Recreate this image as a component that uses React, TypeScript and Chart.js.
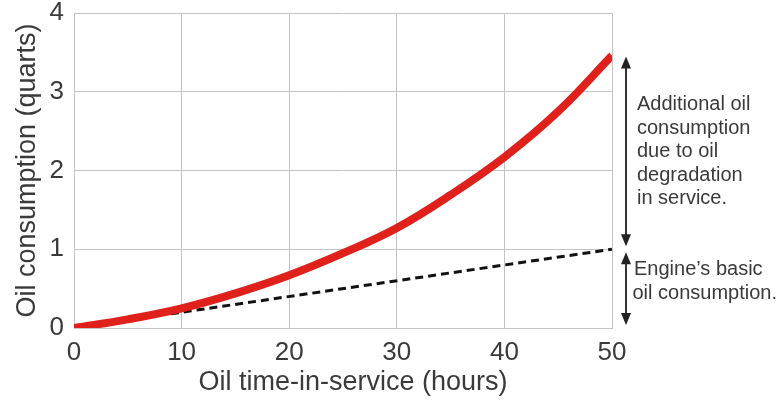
import React, { useEffect, useRef } from "react";
import { Chart, registerables } from "chart.js";

Chart.register(...registerables);

const hours = [0, 5, 10, 15, 20, 25, 30, 35, 40, 45, 50];
const totalConsumption = [0.0, 0.11, 0.25, 0.44, 0.67, 0.95, 1.27, 1.69, 2.17, 2.75, 3.46];
const basicHours = [9, 50];
const basicConsumption = [0.18, 1.0];
const xTicks = [0, 10, 20, 30, 40, 50];
const yTicks = [0, 1, 2, 3, 4];
const xTitle = "Oil time-in-service (hours)";
const yTitle = "Oil consumption (quarts)";
const upperNote = ["Additional oil", "consumption", "due to oil", "degradation", "in service."];
const lowerNote = ["Engine\u2019s basic", "oil consumption."];

const FONT = "'Liberation Sans', Arial, Helvetica, sans-serif";
const TEXT = "#3a3a3a";
const GRID = "#c4c4c4";

function drawArrow(ctx: CanvasRenderingContext2D, x: number, y1: number, y2: number) {
  const head = 12;
  const hw = 5;
  ctx.save();
  ctx.strokeStyle = "#333";
  ctx.fillStyle = "#222";
  ctx.lineWidth = 2;
  ctx.beginPath();
  ctx.moveTo(x, y1 + head - 2);
  ctx.lineTo(x, y2 - head + 2);
  ctx.stroke();
  ctx.beginPath();
  ctx.moveTo(x, y1);
  ctx.lineTo(x - hw, y1 + head);
  ctx.lineTo(x + hw, y1 + head);
  ctx.closePath();
  ctx.fill();
  ctx.beginPath();
  ctx.moveTo(x, y2);
  ctx.lineTo(x - hw, y2 - head);
  ctx.lineTo(x + hw, y2 - head);
  ctx.closePath();
  ctx.fill();
  ctx.restore();
}

const annotationPlugin = {
  id: "annotations",
  afterDraw(chart: any) {
    const ctx: CanvasRenderingContext2D = chart.ctx;
    const y = chart.scales.y;
    const area = chart.chartArea;
    const ax = area.right + 14;
    const topVal = totalConsumption[totalConsumption.length - 1];
    const midVal = basicConsumption[basicConsumption.length - 1];
    const yTop = y.getPixelForValue(topVal) + 1;
    const yMid = y.getPixelForValue(midVal);
    const yBot = y.getPixelForValue(0);
    drawArrow(ctx, ax, yTop, yMid - 3);
    drawArrow(ctx, ax, yMid + 3, yBot - 3);

    ctx.save();
    ctx.fillStyle = TEXT;
    ctx.font = `20px ${FONT}`;
    ctx.textBaseline = "middle";
    ctx.textAlign = "left";
    const lh = 23.5;
    const c1 = (yTop + yMid) / 2 - 1;
    upperNote.forEach((t, i) => {
      ctx.fillText(t, ax + 11, c1 + (i - (upperNote.length - 1) / 2) * lh);
    });
    const c2 = (yMid + yBot) / 2 - 7;
    lowerNote.forEach((t, i) => {
      ctx.fillText(t, ax + 8 - i * 1.5, c2 + (i - (lowerNote.length - 1) / 2) * lh);
    });

    // x-axis title (slightly right of plot centre, as in the reference)
    ctx.font = `27px ${FONT}`;
    ctx.textAlign = "center";
    ctx.fillText(xTitle, (area.left + area.right) / 2 + 10, chart.height - 19);
    ctx.restore();
  },
};

export default function App() {
  const ref = useRef<HTMLCanvasElement>(null);
  useEffect(() => {
    document.body.style.margin = "0";
    const chart = new Chart(ref.current!, {
      type: "line",
      data: {
        datasets: [
          {
            label: "Basic",
            data: basicHours.map((h, i) => ({ x: h, y: basicConsumption[i] })),
            borderColor: "#111",
            borderWidth: 3,
            borderDash: [8, 5],
            pointRadius: 0,
            fill: false,
            order: 2,
          },
          {
            label: "Total",
            data: hours.map((h, i) => ({ x: h, y: totalConsumption[i] })),
            borderColor: "#e0201b",
            borderWidth: 8,
            pointRadius: 0,
            tension: 0.4,
            fill: false,
            order: 1,
          },
        ],
      },
      options: {
        animation: false,
        responsive: false,
        maintainAspectRatio: false,
        layout: { padding: { left: 0, right: 171, top: 13, bottom: 0 } },
        plugins: { legend: { display: false }, tooltip: { enabled: false } },
        scales: {
          x: {
            type: "linear",
            min: 0,
            max: 50,
            afterBuildTicks: (s: any) => {
              s.ticks = xTicks.map((v) => ({ value: v }));
            },
            afterFit: (s: any) => {
              s.height = 74;
              s.paddingLeft = 0;
              s.paddingRight = 0;
            },
            grid: { color: GRID, lineWidth: 1, drawTicks: false },
            border: { color: GRID, width: 1 },
            ticks: { color: TEXT, font: { family: FONT, size: 26 }, padding: 9 },
            title: { display: false },
          },
          y: {
            type: "linear",
            min: 0,
            max: 4,
            afterBuildTicks: (s: any) => {
              s.ticks = yTicks.map((v) => ({ value: v }));
            },
            afterFit: (s: any) => {
              s.width = 74;
              s.paddingTop = 0;
              s.paddingBottom = 0;
            },
            grid: { color: GRID, lineWidth: 1, drawTicks: false },
            border: { color: GRID, width: 1 },
            ticks: { color: TEXT, font: { family: FONT, size: 26 }, padding: 10 },
            title: {
              display: true,
              text: yTitle,
              color: TEXT,
              font: { family: FONT, size: 27 },
              padding: { top: 11, bottom: 0 },
            },
          },
        },
      },
      plugins: [annotationPlugin],
    } as any);
    return () => chart.destroy();
  }, []);
  return (
    <div style={{ width: 783, height: 402 }}>
      <canvas ref={ref} width={783} height={402} style={{ width: 783, height: 402 }} />
    </div>
  );
}
